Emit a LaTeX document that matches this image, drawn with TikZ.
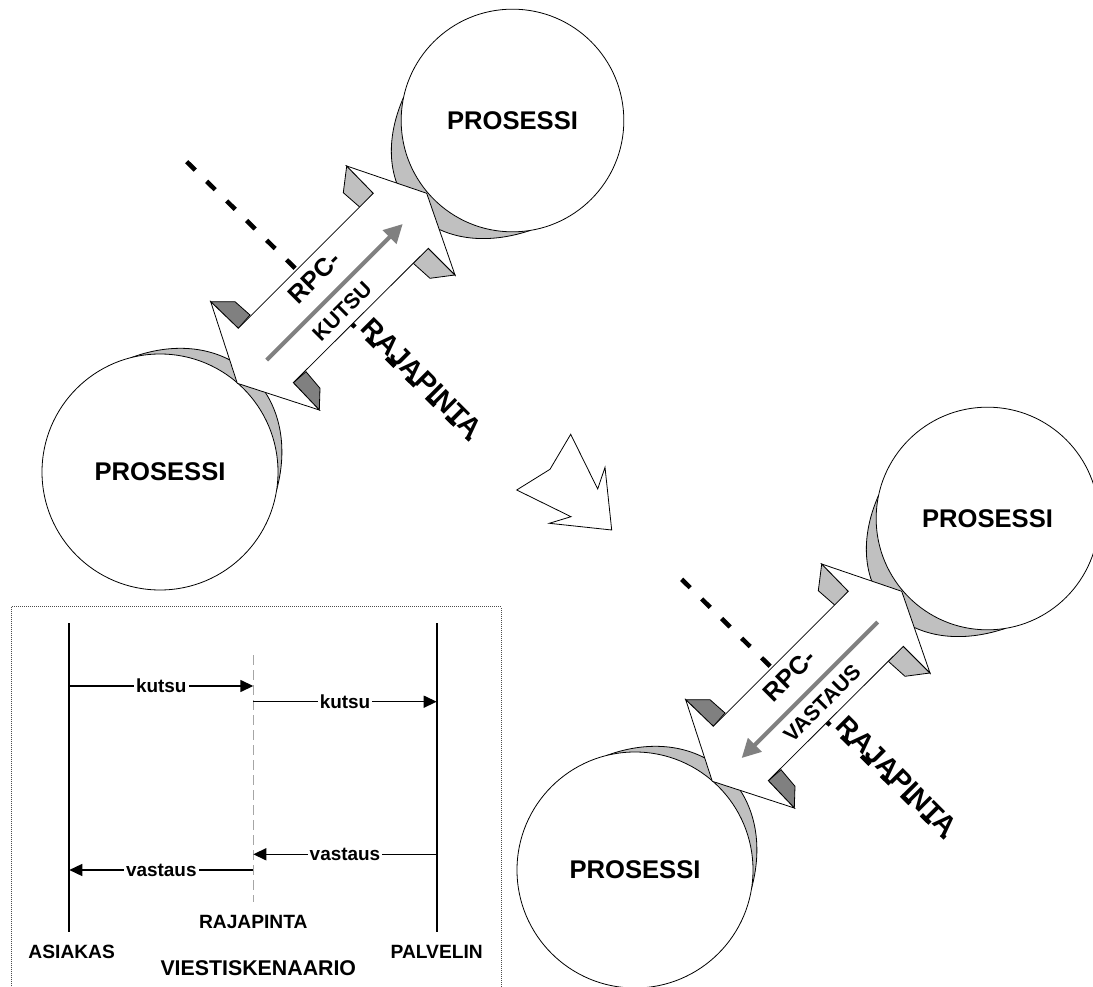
\documentclass[tikz,border=0pt]{standalone}
\usepackage{fontspec}
\setmainfont{Liberation Sans}
\usepackage{xcolor}
\usetikzlibrary{arrows.meta}
\definecolor{lightgrey}{RGB}{192,192,192}
\definecolor{darkgrey}{RGB}{128,128,128}

\begin{document}
\begin{tikzpicture}[
    x=0.75pt, y=-0.75pt,
    proc/.style={circle, draw, fill=white, line width=0.6pt, inner sep=0pt, font=\fontsize{19.2}{23}\selectfont\bfseries},
    crescent/.style={draw, fill=lightgrey, line width=0.6pt},
    lighttab/.style={draw, fill=lightgrey, line width=0.6pt},
    darktab/.style={draw, fill=darkgrey, line width=0.6pt},
    bigarrow/.style={draw, fill=white, line width=0.6pt},
    flow/.style={draw=darkgrey, line width=3pt, -{Triangle[length=14pt, width=14pt]}},
    boundary/.style={line width=3.4pt, dash pattern=on 9pt off 12pt},
    rpc/.style={rotate=45, inner sep=0pt, font=\fontsize{19}{23}\selectfont\bfseries},
    call/.style={rotate=45, inner sep=0pt, font=\fontsize{16}{19}\selectfont\bfseries},
    rajalbl/.style={rotate=-45, inner sep=0pt, font=\fontsize{20.7}{25}\selectfont\bfseries},
    lifeline/.style={line width=1.5pt},
    interface/.style={draw=gray!70, line width=1.1pt, dash pattern=on 7.5pt off 3.75pt},
    msg/.style={line width=1.1pt, -{Triangle[length=9.75pt, width=9pt]}},
    msglbl/.style={fill=white, inner sep=1.5pt, font=\fontsize{14.2}{16}\selectfont\bfseries},
    seqlbl/.style={inner sep=0pt, font=\fontsize{14.4}{17}\selectfont\bfseries},
    frame/.style={draw=black!70, line width=0.6pt, dash pattern=on 0.6pt off 0.9pt}
]
\useasboundingbox (0,0) rectangle (1093,987);

% the two rpc pictures
\foreach \p/\sx/\sy/\ta/\tb/\lab/\lx/\ly/\dd in {a/0/0/1/2/KUTSU/342/311/0pt, b/475/398/2/1/VASTAUS/347/305/21pt}{
\begin{scope}[shift={(\sx,\sy)}]
\draw[crescent] (131.5,357.5) .. controls (227,322.4) and (303.2,392.3) .. (276.5,490.5) -- (160,472) -- cycle;
\draw[crescent] (403.6,97.2) .. controls (362,192) and (431.7,263.3) .. (530.1,230.5) -- (512.5,120.5) -- cycle;
\node[proc, minimum size=177pt] (low\p) at (160,472) {PROSESSI};
\node[proc, minimum size=167pt] (up\p) at (512.5,120.5) {PROSESSI};

\draw[boundary, shorten <=\dd] (186.7,161.7) -- (470,440);

\draw[lighttab] (346.7,166) -- (373.3,193.3) -- (360,207.3) -- (343.3,192.7) -- cycle;
\draw[lighttab] (455,275) -- (428.3,248.3) -- (413.3,263.3) -- (430,278.3) -- cycle;
\draw[darktab] (210.7,301.7) -- (235,301.7) -- (250,315) -- (238.3,328.3) -- cycle;
\draw[darktab] (319.3,410) -- (293.3,382.7) -- (306,371.7) -- (320,388.3) -- cycle;
\draw[bigarrow] (238.3,328.3) -- (373.3,193.3) -- (346.7,166) -- (426.7,193.3) -- (455,275)
    -- (428.3,248.3) -- (293.3,382.7) -- (319.3,410) -- (237.3,383.3) -- (210.7,301.7) -- cycle;

\coordinate (g1\p) at (266.7,360);
\coordinate (g2\p) at (402.7,224);
\draw[flow] (g\ta\p) -- (g\tb\p);

\node[rpc] (rpc\p) at (314,277) {RPC-};
\node[call] (call\p) at (\lx,\ly) {\lab};
\node[rajalbl] (raja\p) at (421.7,378.3) {RAJAPINTA};
\end{scope}
}

% transition arrow
\draw[bigarrow] (570.7,434.3) -- (597.7,489) -- (605,467.3) -- (611.7,530) -- (549.3,523.3)
    -- (571,516.7) -- (516.7,490) -- (550,469.3) -- cycle;

% message scenario
\draw[frame] (11.7,606.7) rectangle (501,995);
\node[seqlbl] (asiakas) at (71.7,951.7) {ASIAKAS};
\node[seqlbl] (palvelin) at (436.7,951.7) {PALVELIN};
\node[seqlbl] (rajapinta) at (253.3,921.7) {RAJAPINTA};
\node[seqlbl, font=\fontsize{16}{19}\selectfont\bfseries] (scenario) at (258.3,967.7) {VIESTISKENAARIO};

\coordinate (asT) at (69.3,623.3);
\coordinate (asB) at (69.3,931.7);
\coordinate (paT) at (436.7,623.3);
\coordinate (paB) at (436.7,931.7);
\coordinate (raT) at (253.3,655);
\coordinate (raB) at (253.3,901.7);
\draw[lifeline] (asT) -- (asB);
\draw[lifeline] (paT) -- (paB);
\draw[interface] (raT) -- (raB);

\coordinate (m1) at (0,686);
\coordinate (m2) at (0,701.7);
\coordinate (m3) at (0,854.3);
\coordinate (m4) at (0,870);
\draw[msg] (asT |- m1) -- node[msglbl] (k1) {kutsu} (raT |- m1);
\draw[msg] (raT |- m2) -- node[msglbl] (k2) {kutsu} (paT |- m2);
\draw[msg] (paT |- m3) -- node[msglbl] (v1) {vastaus} (raT |- m3);
\draw[msg] (raT |- m4) -- node[msglbl] (v2) {vastaus} (asT |- m4);

\end{tikzpicture}
\end{document}
